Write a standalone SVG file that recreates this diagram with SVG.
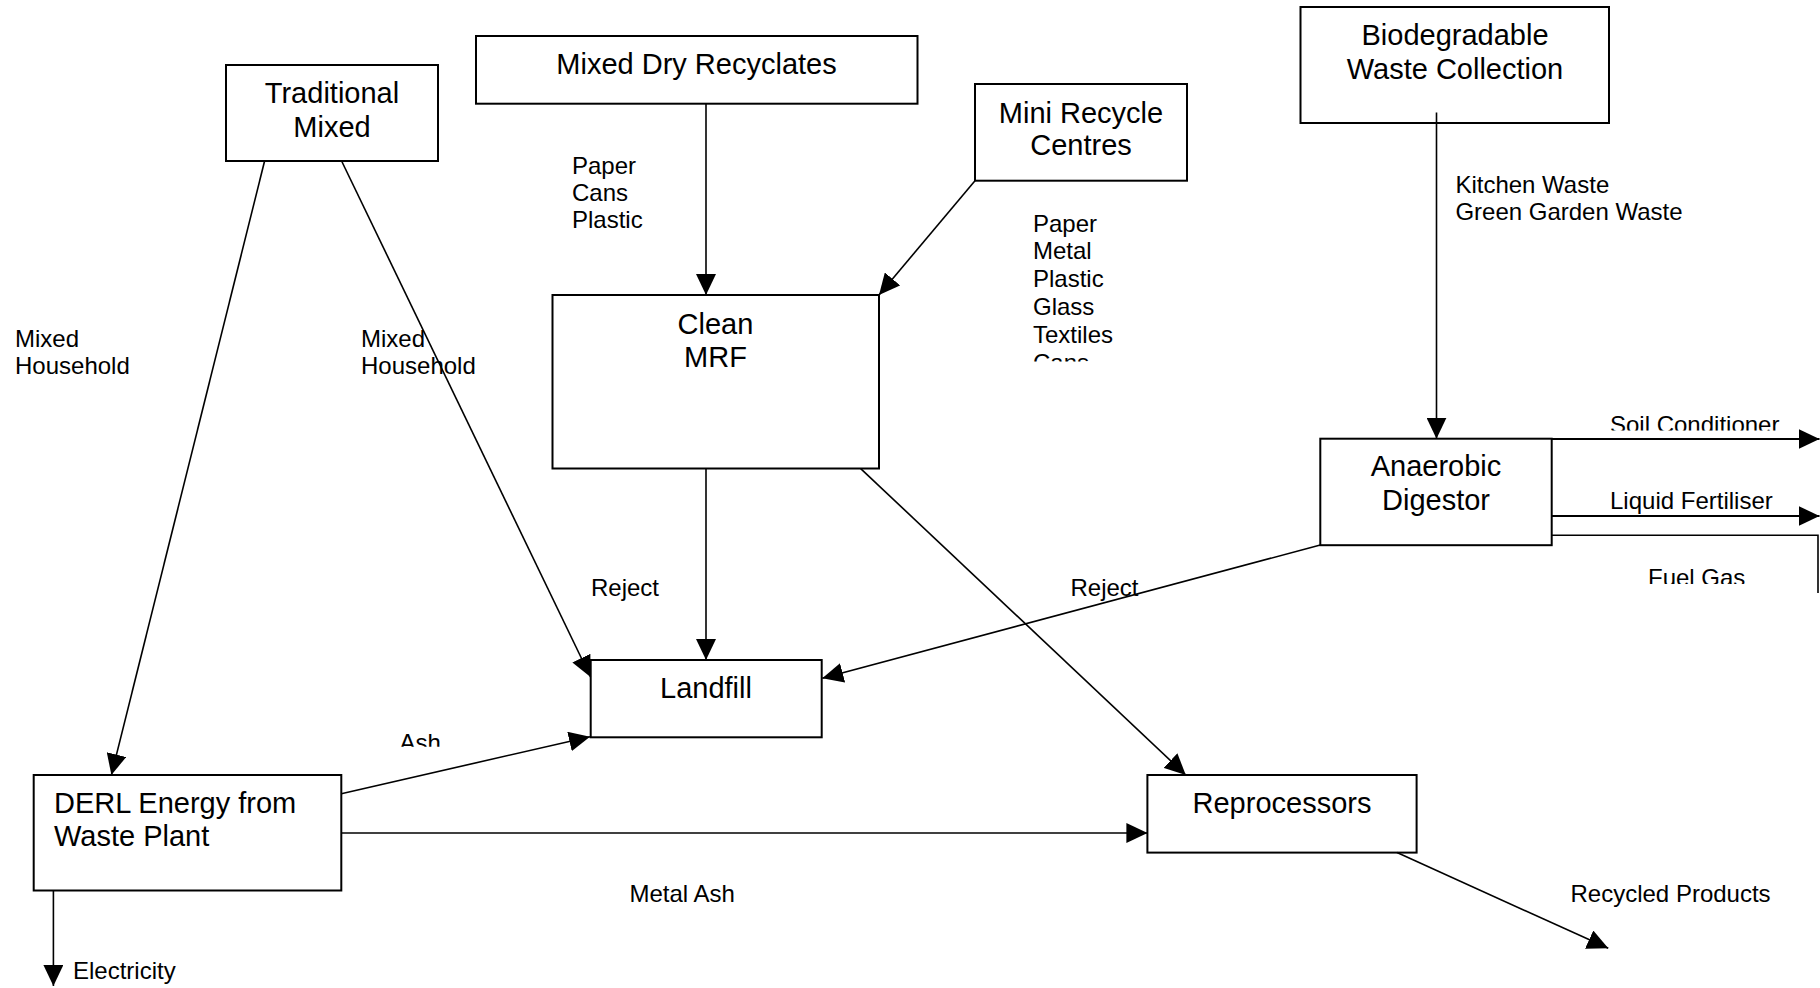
<svg xmlns="http://www.w3.org/2000/svg" width="1820" height="988" viewBox="0 0 1820 988">
<style>
.box{fill:#fff;stroke:#000;stroke-width:2}
.big{font-family:"Liberation Sans",Arial,sans-serif;font-size:29px;fill:#000;text-anchor:middle}
.bigl{font-family:"Liberation Sans",Arial,sans-serif;font-size:29px;fill:#000}
.sm{font-family:"Liberation Sans",Arial,sans-serif;font-size:24px;fill:#000}
.ln{fill:none;stroke:#000;stroke-width:1.6}
.arr{marker-end:url(#ah)}
</style>
<defs>
<marker id="ah" viewBox="0 0 21 20" refX="21" refY="10" markerWidth="21" markerHeight="20" markerUnits="userSpaceOnUse" orient="auto">
<path d="M0,0 L21,10 L0,20 z" fill="#000"/>
</marker>
<clipPath id="cSoil"><rect x="1600" y="400" width="200" height="30.5"/></clipPath>
<clipPath id="cFuel"><rect x="1640" y="555" width="120" height="29"/></clipPath>
<clipPath id="cAsh"><rect x="390" y="720" width="70" height="26.7"/></clipPath>
<clipPath id="cMini"><rect x="1025" y="200" width="120" height="161.5"/></clipPath>
</defs>

<g id="node-traditional">
<rect class="box" x="226" y="65" width="212" height="96"/>
<text class="big" x="332" y="103">Traditional</text>
<text class="big" x="332" y="136.5">Mixed</text>
</g>
<g id="node-mdr">
<rect class="box" x="476" y="36" width="441.5" height="67.7"/>
<text class="big" x="696.5" y="74">Mixed Dry Recyclates</text>
</g>
<g id="node-mini">
<rect class="box" x="975" y="84" width="212" height="96.7"/>
<text class="big" x="1081" y="122.5">Mini Recycle</text>
<text class="big" x="1081" y="155">Centres</text>
</g>
<g id="node-bio">
<rect class="box" x="1300.5" y="7" width="308.5" height="116"/>
<text class="big" x="1455" y="44.5">Biodegradable</text>
<text class="big" x="1455" y="79">Waste Collection</text>
</g>
<g id="node-mrf">
<rect class="box" x="552.5" y="295" width="326.5" height="173.5"/>
<text class="big" x="715.5" y="333.5">Clean</text>
<text class="big" x="715.5" y="367">MRF</text>
</g>
<g id="node-ad">
<rect class="box" x="1320.3" y="438.7" width="231.4" height="106.5"/>
<text class="big" x="1436" y="476.3">Anaerobic</text>
<text class="big" x="1436" y="510">Digestor</text>
</g>
<g id="node-landfill">
<rect class="box" x="590.7" y="660" width="231" height="77.3"/>
<text class="big" x="706" y="698.3">Landfill</text>
</g>
<g id="node-derl">
<rect class="box" x="33.7" y="775" width="307.6" height="115.5"/>
<text class="bigl" x="54" y="812.5">DERL Energy from</text>
<text class="bigl" x="54" y="846">Waste Plant</text>
</g>
<g id="node-reproc">
<rect class="box" x="1147.4" y="775" width="269.2" height="77.6"/>
<text class="big" x="1282" y="812.5">Reprocessors</text>
</g>

<g id="connectors">
<line class="ln arr" x1="264.6" y1="161" x2="111.4" y2="775"/>
<line class="ln arr" x1="341.6" y1="161" x2="590.5" y2="677"/>
<line class="ln arr" x1="706" y1="103.7" x2="706" y2="295"/>
<line class="ln arr" x1="975" y1="180.7" x2="879" y2="295"/>
<line class="ln arr" x1="1436.5" y1="112.6" x2="1436.5" y2="438.7"/>
<line class="ln arr" x1="706" y1="468.5" x2="706" y2="660"/>
<line class="ln arr" x1="860.7" y1="468.6" x2="1185.8" y2="775"/>
<line class="ln arr" x1="1320.3" y1="545" x2="822.3" y2="678.3"/>
<line class="ln arr" x1="341.3" y1="793.7" x2="590" y2="736.7"/>
<line class="ln arr" x1="341.3" y1="833" x2="1147.4" y2="833"/>
<line class="ln arr" x1="53.4" y1="890.5" x2="53.4" y2="986"/>
<line class="ln arr" x1="1397" y1="852.6" x2="1608.3" y2="948.3"/>
<line class="ln arr" x1="1551.7" y1="439" x2="1819.5" y2="439" style="stroke-width:2"/>
<line class="ln arr" x1="1551.7" y1="516" x2="1819.5" y2="516" style="stroke-width:2"/>
<polyline class="ln" points="1551.7,535.3 1818,535.3 1818,593"/>
</g>

<g id="labels">
<text class="sm" x="15" y="347"><tspan x="15">Mixed</tspan><tspan x="15" y="373.5">Household</tspan></text>
<text class="sm" x="361" y="347"><tspan x="361">Mixed</tspan><tspan x="361" y="373.5">Household</tspan></text>
<text class="sm" x="572" y="174"><tspan x="572">Paper</tspan><tspan x="572" y="201">Cans</tspan><tspan x="572" y="228">Plastic</tspan></text>
<g clip-path="url(#cMini)">
<text class="sm" x="1033" y="231.5"><tspan x="1033">Paper</tspan><tspan x="1033" y="259.3">Metal</tspan><tspan x="1033" y="287.2">Plastic</tspan><tspan x="1033" y="315">Glass</tspan><tspan x="1033" y="342.9">Textiles</tspan><tspan x="1033" y="370.8">Cans</tspan></text>
</g>
<text class="sm" x="1455.4" y="193"><tspan x="1455.4">Kitchen Waste</tspan><tspan x="1455.4" y="220">Green Garden Waste</tspan></text>
<text class="sm" x="1610" y="432.5" clip-path="url(#cSoil)">Soil Conditioner</text>
<text class="sm" x="1610" y="508.5">Liquid Fertiliser</text>
<text class="sm" x="1648" y="586.3" clip-path="url(#cFuel)">Fuel Gas</text>
<text class="sm" x="591" y="595.5">Reject</text>
<text class="sm" x="1070.5" y="595.5">Reject</text>
<text class="sm" x="399.5" y="750.5" clip-path="url(#cAsh)">Ash</text>
<text class="sm" x="629.5" y="902.4">Metal Ash</text>
<text class="sm" x="73" y="979.3">Electricity</text>
<text class="sm" x="1570.5" y="902.4">Recycled Products</text>
</g>
</svg>
